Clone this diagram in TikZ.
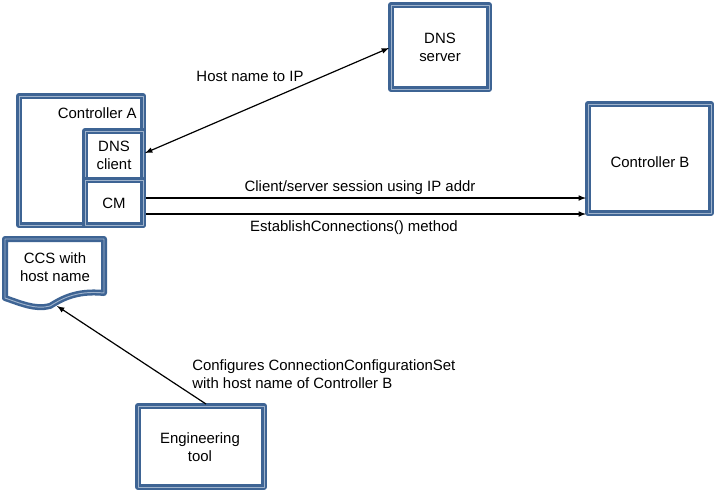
\documentclass[tikz,border=0pt]{standalone}
\usepackage{fontspec}
\setmainfont{Liberation Sans}
\begin{document}
\begin{tikzpicture}[x=0.75pt,y=-0.75pt,
  bx/.style={draw=boxblue,line width=1.9pt,double=boxlight,double distance=0.7pt,line join=round},
  lbl/.style={font=\fontsize{11.2}{13.5}\selectfont,inner sep=0pt},
  arr/.style={line width=0.9pt,-latex}]
\definecolor{boxblue}{HTML}{3E6494}
\definecolor{boxlight}{HTML}{9FB3CC}
\useasboundingbox (0,0) rectangle (716,494);
\draw[bx,fill=white] (19,96) rectangle (143,225);
\draw[bx,fill=white] (85,131) rectangle (143,180);
\draw[bx,fill=white] (85,180) rectangle (143,225);
\draw[bx,fill=white] (391,5) rectangle (489,89);
\draw[bx,fill=white] (588,104) rectangle (711,213);
\draw[bx,fill=white] (138,406) rectangle (264,487);
\draw[bx,fill=white] (5,239) -- (104,239) -- (104,293) .. controls (75,290) and (60,300) .. (50,306) .. controls (35,310) and (20,303) .. (5,298) -- cycle;
\node[lbl,anchor=east] (ca) at (137,113) {Controller A};
\node[lbl,align=center] (dnsc) at (114,155) {DNS\\client};
\node[lbl] (cm) at (114,203) {CM};
\node[lbl,align=center] (dnss) at (440,47) {DNS\\server};
\node[lbl] (cb) at (650,162) {Controller B};
\node[lbl,align=center] (et) at (200,447) {Engineering\\tool};
\node[lbl,align=center] (ccs) at (55,267) {CCS with\\host name};
\coordinate (a1) at (145,153);
\coordinate (a2) at (389,48);
\coordinate (c1) at (146,198);
\coordinate (c2) at (586,198);
\coordinate (e1) at (146,214);
\coordinate (e2) at (586,214);
\coordinate (t1) at (206,404);
\coordinate (t2) at (57,306);
\draw[arr,latex-latex] (a1) -- (a2);
\draw[arr] (c1) -- (c2);
\draw[arr] (e1) -- (e2);
\draw[arr] (t1) -- (t2);
\node[lbl] at (250,76) {Host name to IP};
\node[lbl] at (360,188) {Client/server session using IP addr};
\node[lbl] at (354,228) {EstablishConnections() method};
\node[lbl,align=left,anchor=north west] at (192,359) {Configures ConnectionConfigurationSet\\with host name of Controller B};
\end{tikzpicture}
\end{document}
